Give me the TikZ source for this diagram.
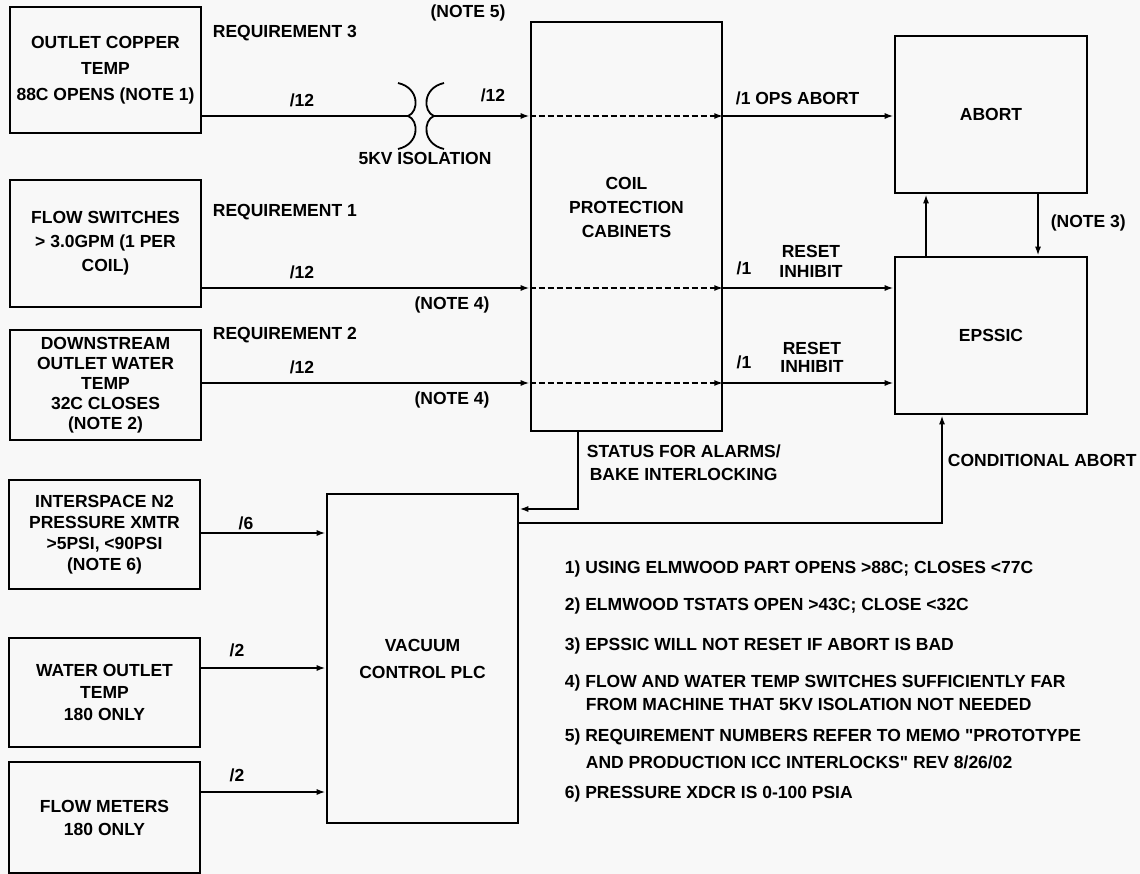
\documentclass[tikz,border=0pt]{standalone}
\usepackage{fontspec}
\setmainfont{Liberation Sans}[Ligatures=TeXOff]
\usetikzlibrary{arrows.meta}
\definecolor{paper}{RGB}{248, 248, 248}

\begin{document}
\begin{tikzpicture}[x=1pt, y=-1pt, line width=1.8pt, >={Latex[length=9pt,width=6pt]},
  every node/.style={font=\fontsize{17.5}{22}\selectfont\bfseries},
  blk/.style={draw, line width=2.6pt, inner sep=0pt, align=center},
  lbl/.style={inner sep=0pt, align=center}]
  \fill[paper] (0,0) rectangle (1140,874);
  \useasboundingbox (0,0) rectangle (1140,874);

  % input boxes
  \node[blk, minimum width=191pt, minimum height=126pt] (copper) at (105.5,70) {OUTLET COPPER\\[4pt]TEMP\\[4pt]88C OPENS (NOTE 1)};
  \node[blk, minimum width=191pt, minimum height=127pt] (flow) at (105.5,243.5) {FLOW SWITCHES\\[2pt]> 3.0GPM (1 PER\\[2pt]COIL)};
  \node[blk, minimum width=191pt, minimum height=110pt] (down) at (105.5,385) {DOWNSTREAM\\[-2pt]OUTLET WATER\\[-2pt]TEMP\\[-2pt]32C CLOSES\\[-2pt](NOTE 2)};
  \node[blk, minimum width=191pt, minimum height=109pt] (inter) at (104.5,534.5) {INTERSPACE N2\\[-1pt]PRESSURE XMTR\\[-1pt]>5PSI, <90PSI\\[-1pt](NOTE 6)};
  \node[blk, minimum width=191pt, minimum height=109pt] (water) at (104.5,692.5) {WATER OUTLET\\TEMP\\180 ONLY};
  \node[blk, minimum width=191pt, minimum height=111pt] (meters) at (104.5,817.5) {FLOW METERS\\[1pt]180 ONLY};

  % controllers
  \node[blk, minimum width=191pt, minimum height=329pt] (plc) at (422.5,658.5) {VACUUM\\[5pt]CONTROL PLC};
  \node[blk, minimum width=191pt, minimum height=409pt] (cab) at (626.5,226.5) {};
  \node[lbl] (cabtxt) at (626.5,207) {COIL\\[2pt]PROTECTION\\[2pt]CABINETS};
  \node[blk, minimum width=192pt, minimum height=157pt] (abort) at (991,114.5) {ABORT};
  \node[blk, minimum width=192pt, minimum height=157pt] (epssic) at (991,335.5) {EPSSIC};

  \coordinate (r1) at (0,116);
  \coordinate (r2) at (0,288);
  \coordinate (r3) at (0,383);
  \coordinate (isoL) at (408,116);
  \coordinate (isoR) at (434,116);

  % 5kv isolation
  \draw (copper.east |- r1) -- (isoL);
  \draw (398,83) .. controls (420,88) and (419,112) .. (isoL) .. controls (419,120) and (420,144) .. (398,149);
  \draw (444,83) .. controls (422,88) and (423,112) .. (isoR) .. controls (423,120) and (422,144) .. (444,149);
  \draw[->] (isoR) -- (cab.west |- r1);

  \foreach \from/\row in {flow/r2, down/r3}
    \draw[->] (\from.east |- \row) -- (cab.west |- \row);
  \foreach \row in {r1, r2, r3}
    \draw[->, dash pattern=on 6pt off 3pt] (cab.west |- \row) -- (cab.east |- \row);
  \draw[->] (cab.east |- r1) -- (abort.west |- r1);
  \foreach \row in {r2, r3}
    \draw[->] (cab.east |- \row) -- (epssic.west |- \row);

  \coordinate (up) at (926,0);
  \coordinate (dn) at (1038,0);
  \draw[->] (epssic.north -| up) -- (abort.south -| up);
  \draw[->] (abort.south -| dn) -- (epssic.north -| dn);

  \coordinate (st) at (578,509);
  \coordinate (ca) at (942,523);
  \draw[->] (cab.south -| st) |- (plc.east |- st);
  \draw[->] (plc.east |- ca) -| (epssic.south -| ca);

  \coordinate (p1) at (0,533);
  \coordinate (p2) at (0,668);
  \coordinate (p3) at (0,792);
  \foreach \from/\row in {inter/p1, water/p2, meters/p3}
    \draw[->] (\from.east |- \row) -- (plc.west |- \row);

  % labels
  \node[lbl, anchor=west] (req3) at (212,33) {REQUIREMENT 3};
  \node[lbl, anchor=west] (req1) at (212,212) {REQUIREMENT 1};
  \node[lbl, anchor=west] (req2) at (212,335) {REQUIREMENT 2};
  \node[lbl] (w1) at (302,100) {/12};
  \node[lbl] (w2) at (302,272) {/12};
  \node[lbl] (w3) at (302,367) {/12};
  \node[lbl] (w1b) at (493,95) {/12};
  \node[lbl] (note5) at (468,13) {(NOTE 5)};
  \node[lbl] (iso) at (425,158) {5KV ISOLATION};
  \node[lbl] (note4a) at (452,305) {(NOTE 4)};
  \node[lbl] (note4b) at (452,400) {(NOTE 4)};
  \node[lbl, anchor=west] (ops) at (735,98) {/1 OPS ABORT};
  \node[lbl] (w2b) at (744,268) {/1};
  \node[lbl] (w3b) at (744,362) {/1};
  \node[lbl] (rst1) at (811,261) {RESET\\[-2pt]INHIBIT};
  \node[lbl] (rst2) at (812,357) {RESET\\[-4pt]INHIBIT};
  \node[lbl, anchor=west] (note3) at (1050,223) {(NOTE 3)};
  \node[lbl, anchor=west, align=left] (status) at (586,463) {STATUS FOR ALARMS/\\[1pt]\,BAKE INTERLOCKING};
  \node[lbl, anchor=west] (cond) at (947,460) {CONDITIONAL ABORT};
  \node[lbl] (w4) at (246,523) {/6};
  \node[lbl] (w5) at (237,650) {/2};
  \node[lbl] (w6) at (237,775) {/2};

  % notes
  \foreach \x/\y/\txt in {564/569/{1) USING ELMWOOD PART OPENS >88C; CLOSES <77C},
      564/606/{2) ELMWOOD TSTATS OPEN >43C; CLOSE <32C},
      564/646/{3) EPSSIC WILL NOT RESET IF ABORT IS BAD},
      564/683/{4) FLOW AND WATER TEMP SWITCHES SUFFICIENTLY FAR},
      585/704/{FROM MACHINE THAT 5KV ISOLATION NOT NEEDED},
      564/737/{5) REQUIREMENT NUMBERS REFER TO MEMO "PROTOTYPE},
      585/762/{AND PRODUCTION ICC INTERLOCKS" REV 8/26/02},
      564/794/{6) PRESSURE XDCR IS 0-100 PSIA}}
    \node[lbl, anchor=west] (note-\y) at (\x,\y) {\txt};
\end{tikzpicture}
\end{document}
